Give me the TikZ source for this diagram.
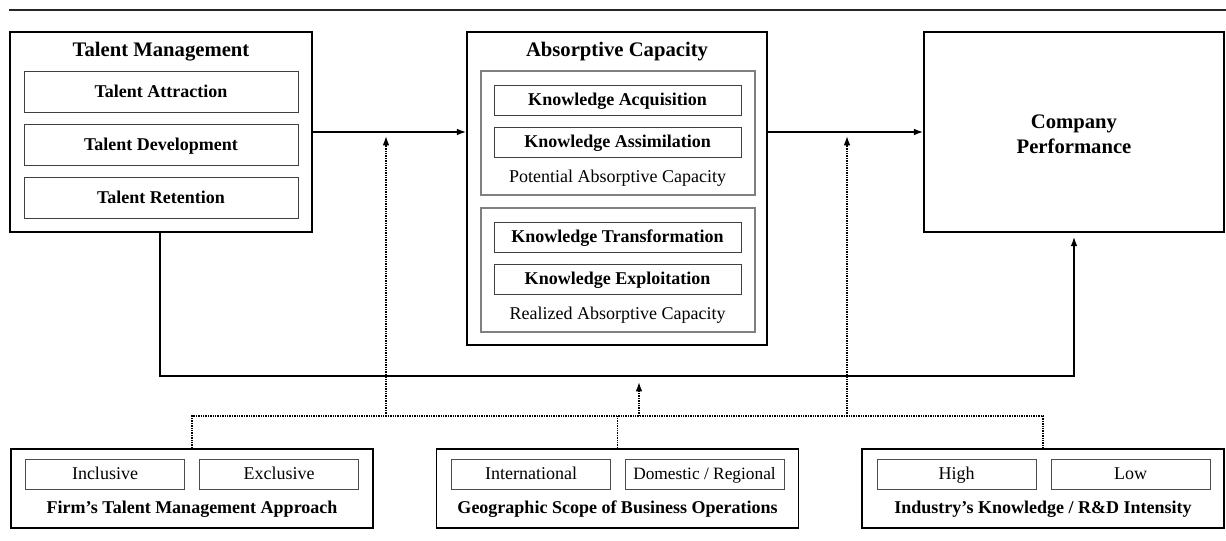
\documentclass[tikz,border=0pt]{standalone}
\usepackage{fontspec}
\setmainfont{Liberation Serif}
\usetikzlibrary{arrows.meta}
\tikzset{
  outerbox/.style={draw,line width=1.2pt,inner sep=0pt},
  innerbox/.style={draw=black!75,line width=0.7pt,inner sep=0pt,text height=9.5pt,text depth=1pt,font=\fontsize{13.5}{16}\selectfont\bfseries},
  groupbox/.style={draw=black!50,line width=0.8pt,inner sep=0pt},
  optbox/.style={draw=black!70,line width=0.7pt,inner sep=0pt,text height=9.5pt,text depth=1pt,minimum width=119.25pt,minimum height=22.5pt,font=\fontsize{13.5}{16}\selectfont},
  titletext/.style={font=\fontsize{15.5}{18}\selectfont\bfseries},
  subtext/.style={font=\fontsize{13.5}{16}\selectfont},
  conn/.style={line width=1.1pt,-{Latex[length=7pt,width=5pt]}},
  modline/.style={line width=1.1pt,dash pattern=on 1pt off 0.8pt},
  modarrow/.style={modline,-{Latex[length=7pt,width=5pt]}}
}
\begin{document}
\begin{tikzpicture}[x=0.75pt,y=-0.75pt]
		\useasboundingbox (0,0) rectangle (1226,541);
		\draw[line width=0.9pt,black!85](9,10)--(1226,10);
		% talent management
		\node[outerbox,minimum width=226.5pt,minimum height=150pt] (tm) at (161,132) {};
		\node[titletext] (tmtitle) at (161,52) {Talent Management};
		\node[innerbox,minimum width=205.5pt,minimum height=30.75pt] (tatt) at (161,91.5) {Talent Attraction};
		\node[innerbox,minimum width=205.5pt,minimum height=30.75pt] (tdev) at (161,144.5) {Talent Development};
		\node[innerbox,minimum width=205.5pt,minimum height=30.75pt] (tret) at (161,197.5) {Talent Retention};
		% absorptive capacity
		\node[outerbox,minimum width=225pt,minimum height=234.75pt] (ac) at (617,188.5) {};
		\node[titletext] (actitle) at (617,52) {Absorptive Capacity};
		\node[groupbox,minimum width=205.5pt,minimum height=93pt] (pac) at (618,133) {};
		\node[groupbox,minimum width=205.5pt,minimum height=93pt] (rac) at (618,270) {};
		\node[innerbox,minimum width=185.25pt,minimum height=22.5pt] (kacq) at (617.5,100) {Knowledge Acquisition};
		\node[innerbox,minimum width=185.25pt,minimum height=22.5pt] (kass) at (617.5,142) {Knowledge Assimilation};
		\node[subtext] (paclabel) at (617.5,178) {Potential Absorptive Capacity};
		\node[innerbox,minimum width=185.25pt,minimum height=22.5pt] (ktra) at (617.5,237) {Knowledge Transformation};
		\node[innerbox,minimum width=185.25pt,minimum height=22.5pt] (kexp) at (617.5,279) {Knowledge Exploitation};
		\node[subtext] (raclabel) at (617.5,315) {Realized Absorptive Capacity};
		% company performance
		\node[outerbox,minimum width=225pt,minimum height=150pt] (cp) at (1074,132) {};
		\node[titletext,align=center,font=\fontsize{15.5}{19}\selectfont\bfseries] (cptext) at (1074,134) {Company\\Performance};
		% moderators
		\node[outerbox,minimum width=271.5pt,minimum height=59.25pt] (firm) at (192,488.5) {};
		\node[optbox] (incl) at (105,474) {Inclusive};
		\node[optbox] (excl) at (279,474) {Exclusive};
		\node[titletext,font=\fontsize{13.5}{16}\selectfont\bfseries] (firmlabel) at (192,509) {Firm’s Talent Management Approach};
		\node[outerbox,minimum width=271.5pt,minimum height=59.25pt] (geo) at (617.5,488.5) {};
		\node[optbox] (intl) at (531,474) {International};
		\node[optbox,font=\fontsize{13}{16}\selectfont] (dom) at (704.5,474) {Domestic / Regional};
		\node[titletext,font=\fontsize{13.5}{16}\selectfont\bfseries] (geolabel) at (617.5,509) {Geographic Scope of Business Operations};
		\node[outerbox,minimum width=271.5pt,minimum height=59.25pt] (ind) at (1043,488.5) {};
		\node[optbox] (high) at (956.5,474) {High};
		\node[optbox] (low) at (1130.5,474) {Low};
		\node[titletext,font=\fontsize{13.5}{16}\selectfont\bfseries] (indlabel) at (1043,509) {Industry’s Knowledge / R\&D Intensity};
		% main paths
		\draw[conn](tm.east)--(tm.east-|ac.west);
		\draw[conn](ac.east|-cp.west)--(cp.west);
		\coordinate (fbl) at (160,376);
		\coordinate (fbr) at (1074,376);
		\draw[conn,shorten >=3pt](tm.south-|fbl)--(fbl)--(fbr)--(cp.south);
		% moderating paths
		\coordinate (hub) at (618,416);
		\coordinate (m1) at (386,416);
		\coordinate (m2) at (639,416);
		\coordinate (m3) at (847,416);
		\draw[modline](firm.north)--(firm.north|-hub)--(ind.north|-hub)--(ind.north);
		\draw[modline](geo.north)--(geo.north|-hub);
		\draw[modarrow,shorten >=3pt](m1)--(m1|-tm.east);
		\draw[modarrow,shorten >=4.5pt](m2)--(m2|-fbl);
		\draw[modarrow,shorten >=3pt](m3)--(m3|-cp.west);
		\end{tikzpicture}
\end{document}
